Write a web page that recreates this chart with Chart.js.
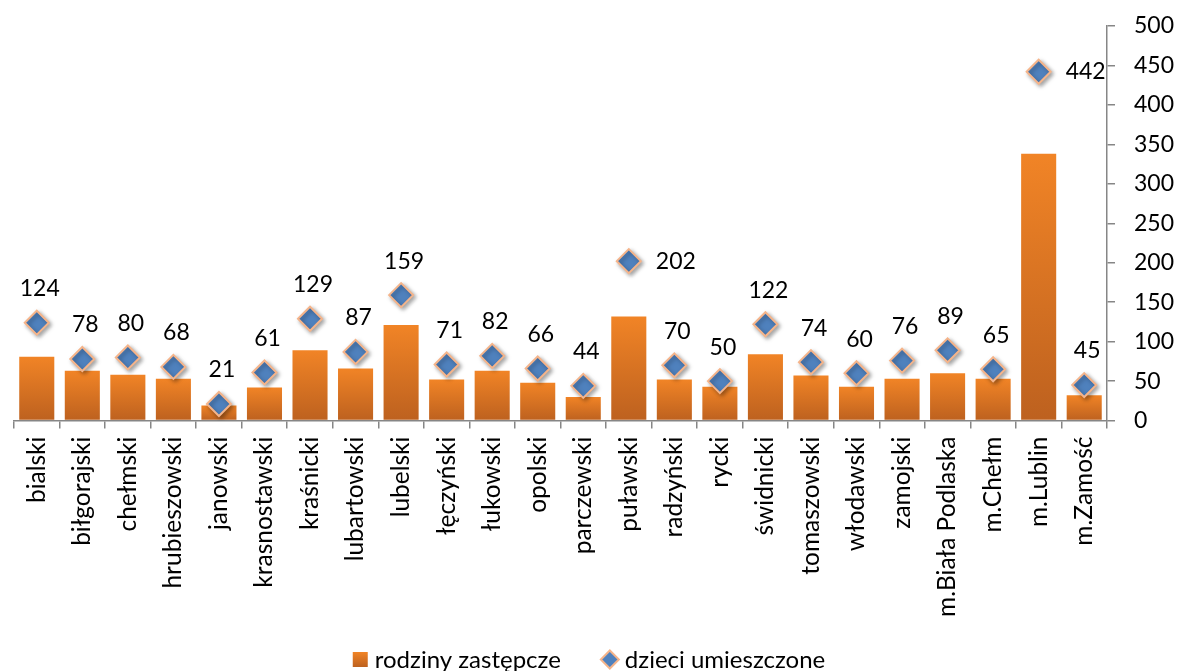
<!DOCTYPE html>
<html>
<head>
<meta charset="utf-8">
<script src="https://cdn.jsdelivr.net/npm/chart.js@4/dist/chart.umd.min.js"></script>
<style>
html,body{margin:0;padding:0;background:#fff;}
#wrap{width:1178px;height:671px;position:relative;}
</style>
</head>
<body>
<div id="wrap"><canvas id="c" width="1178" height="671"></canvas></div>
<script>
const categories = ['bialski','biłgorajski','chełmski','hrubieszowski','janowski','krasnostawski','kraśnicki','lubartowski','lubelski','łęczyński','łukowski','opolski','parczewski','puławski','radzyński','rycki','świdnicki','tomaszowski','włodawski','zamojski','m.Biała Podlaska','m.Chełm','m.Lublin','m.Zamość'];
const fosterFamilies = [81,63,58,53,19,42,89,66,121,52,63,48,30,132,52,43,84,57,43,53,60,53,338,32];
const placedChildren = [124,78,80,68,21,61,129,87,159,71,82,66,44,202,70,50,122,74,60,76,89,65,442,45];
const yTicks = [0,50,100,150,200,250,300,350,400,450,500];
const seriesNames = ['rodziny zastępcze','dzieci umieszczone'];
const rightLabelCats = ['puławski','m.Lublin'];

const FONT = 'Lato';
const AXIS = '#868686';
const BAR_TOP = '#F18426', BAR_BOT = '#BD611F';
const MARK_FILL = '#4F81BD', MARK_EDGE = '#F5B48A';

function barGradient(ctx){
  const chart = ctx.chart;
  if (ctx.type !== 'data' || !chart.chartArea || !chart.scales.y) return '#E0761F';
  const y = chart.scales.y;
  const top = y.getPixelForValue(ctx.raw);
  const base = y.getPixelForValue(0);
  if (!isFinite(top) || !isFinite(base) || base - top < 1) return '#E0761F';
  const g = chart.ctx.createLinearGradient(0, top, 0, base);
  g.addColorStop(0, BAR_TOP);
  g.addColorStop(1, BAR_BOT);
  return g;
}

const labelPlugin = {
  id: 'pointLabels',
  beforeDatasetDraw(chart, args){
    if (args.index === 1){
      const c = chart.ctx; c.save();
      c.shadowColor = 'rgba(0,0,0,0.35)'; c.shadowBlur = 4; c.shadowOffsetX = 2; c.shadowOffsetY = 2;
    }
  },
  afterDatasetDraw(chart, args){
    if (args.index === 1) chart.ctx.restore();
  },
  afterDatasetsDraw(chart){
    const meta = chart.getDatasetMeta(1);
    const c = chart.ctx;
    c.save();
    c.font = '23px ' + FONT;
    c.fillStyle = '#000';
    c.textBaseline = 'middle';
    meta.data.forEach((pt, i) => {
      const txt = String(placedChildren[i]);
      if (rightLabelCats.includes(categories[i])){
        c.textAlign = 'left';
        c.fillText(txt, pt.x + 27, pt.y);
      } else {
        c.textAlign = 'center';
        c.fillText(txt, pt.x + 3, pt.y - 34);
      }
    });
    c.restore();
  }
};

const legendPlugin = {
  id: 'customLegend',
  afterDraw(chart){
    const c = chart.ctx;
    c.save();
    c.font = '24px ' + FONT;
    c.textBaseline = 'middle';
    c.fillStyle = '#000';
    const w1 = c.measureText(seriesNames[0]).width;
    const w2 = c.measureText(seriesNames[1]).width;
    const total = 15 + 7 + w1 + 40 + 18 + 6 + w2;
    let x = chart.width / 2 - total / 2;
    const cy = 659.5;
    const g = c.createLinearGradient(0, cy - 7.5, 0, cy + 7.5);
    g.addColorStop(0, BAR_TOP); g.addColorStop(1, BAR_BOT);
    c.fillStyle = g;
    c.fillRect(x, cy - 7.5, 15, 15);
    x += 15 + 7;
    c.fillStyle = '#000';
    c.textAlign = 'left';
    c.fillText(seriesNames[0], x, cy + 1);
    x += w1 + 40;
    c.beginPath();
    c.moveTo(x + 9, cy - 9); c.lineTo(x + 18, cy); c.lineTo(x + 9, cy + 9); c.lineTo(x, cy); c.closePath();
    c.fillStyle = MARK_FILL; c.fill();
    c.lineWidth = 2; c.strokeStyle = MARK_EDGE; c.stroke();
    x += 18 + 6;
    c.fillStyle = '#000';
    c.fillText(seriesNames[1], x, cy + 1);
    c.restore();
  }
};

new Chart(document.getElementById('c'), {
  data: {
    labels: categories,
    datasets: [
      {
        type: 'bar',
        label: seriesNames[0],
        data: fosterFamilies,
        backgroundColor: barGradient,
        barPercentage: 0.77,
        categoryPercentage: 1,
        order: 1
      },
      {
        type: 'line',
        label: seriesNames[1],
        data: placedChildren,
        showLine: false,
        pointStyle: 'rectRot',
        pointRadius: 12,
        pointHoverRadius: 12,
        pointBackgroundColor: MARK_FILL,
        pointBorderColor: MARK_EDGE,
        pointBorderWidth: 2,
        backgroundColor: MARK_FILL,
        borderColor: MARK_EDGE,
        order: 0
      }
    ]
  },
  options: {
    responsive: false,
    animation: false,
    events: [],
    layout: { padding: { top: 0, right: -15, left: 12, bottom: 46 } },
    plugins: {
      tooltip: { enabled: false },
      legend: { display: false }
    },
    scales: {
      x: {
        grid: { offset: true, drawOnChartArea: false, drawTicks: true, tickLength: 8, color: AXIS, lineWidth: 1.5 },
        border: { color: AXIS, width: 1.5 },
        ticks: { autoSkip: false, maxRotation: 90, minRotation: 90, padding: 8, color: '#000', font: { family: FONT, size: 24.5 } }
      },
      y: {
        position: 'right',
        min: 0, max: 500,
        afterBuildTicks(scale){ scale.ticks = yTicks.map(v => ({ value: v })); },
        afterFit(scale){ scale.paddingTop = 26; scale.paddingBottom = 14; },
        grid: { drawOnChartArea: false, drawTicks: true, tickLength: 8, color: AXIS, lineWidth: 1.5 },
        border: { color: AXIS, width: 1.5 },
        ticks: { padding: 19, color: '#000', font: { family: FONT, size: 23 } }
      }
    }
  },
  plugins: [labelPlugin, legendPlugin]
});
</script>
</body>
</html>
